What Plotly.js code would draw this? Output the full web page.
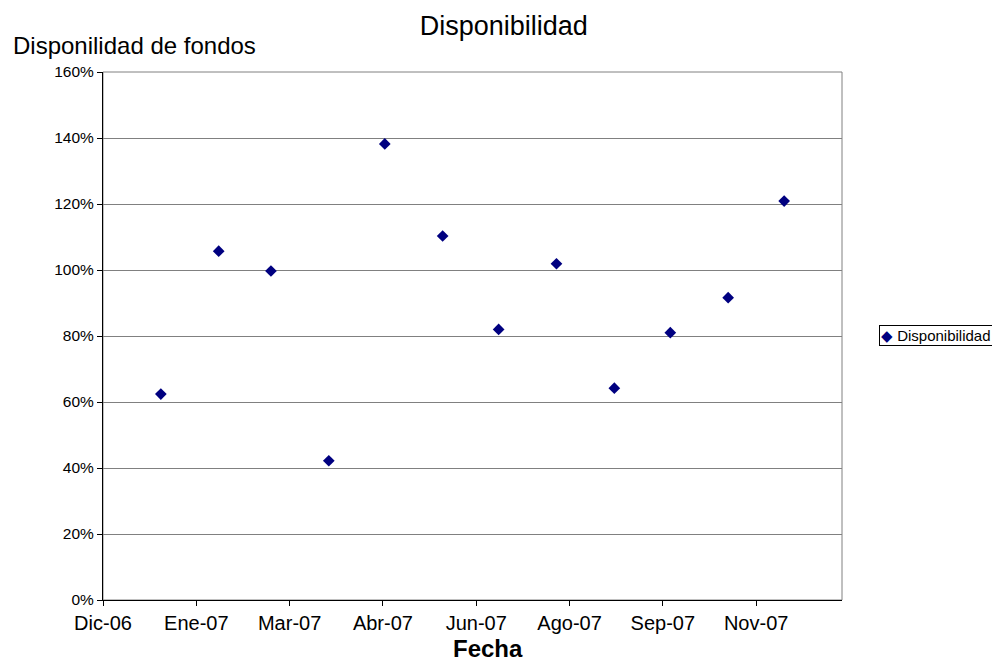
<!DOCTYPE html>
<html>
<head>
<meta charset="utf-8">
<script src="https://cdn.plot.ly/plotly-3.0.1.min.js"></script>
<style>html,body{margin:0;padding:0;background:#fff;}#chart{width:992px;height:662px;}</style>
</head>
<body>
<div id="chart"></div>
<script>
// Data (monthly availability)
const fechas = ['2007-01-01','2007-02-01','2007-03-01','2007-04-01','2007-05-01','2007-06-01',
                '2007-07-01','2007-08-01','2007-09-01','2007-10-01','2007-11-01','2007-12-01'];
const disponibilidad = [0.624, 1.057, 0.997, 0.422, 1.382, 1.103, 0.820, 1.019, 0.642, 0.810, 0.916, 1.209];
const tickFechas = ['2006-12-01','2007-01-20','2007-03-11','2007-04-30','2007-06-19','2007-08-08','2007-09-27','2007-11-16'];
const tickTextos = ['Dic-06','Ene-07','Mar-07','Abr-07','Jun-07','Ago-07','Sep-07','Nov-07'];
const serieNombre = 'Disponibilidad';

const trace = {
  x: fechas, y: disponibilidad, type: 'scatter', mode: 'markers', name: serieNombre,
  marker: {symbol: 'diamond', size: 9, color: '#000080'}
};

const W = 992, H = 662, L = 103, R = 842, T = 72, B = 600;
const pw = R - L, ph = B - T;

const layout = {
  width: W, height: H,
  margin: {l: L, r: W - R, t: T, b: H - B, autoexpand: false},
  paper_bgcolor: '#fff', plot_bgcolor: '#fff',
  font: {family: 'Arial, "Liberation Sans", sans-serif', color: '#000'},
  title: {text: 'Disponibilidad', font: {size: 27, color: '#000'},
          x: 538 / W, xanchor: 'center', xref: 'paper', y: 1 - 26 / H, yanchor: 'middle', yref: 'container'},
  xaxis: {
    type: 'date', range: ['2006-12-01', '2008-01-01'],
    tickmode: 'array', tickvals: tickFechas, ticktext: tickTextos,
    ticks: 'outside', ticklen: 5, tickcolor: '#000', tickwidth: 1,
    showline: true, linecolor: '#000', linewidth: 1,
    showgrid: false, zeroline: false,
    tickfont: {size: 20, color: '#000'}
  },
  yaxis: {
    range: [0, 1.6], dtick: 0.2, tick0: 0, tickformat: '.0%',
    ticks: 'outside', ticklen: 5, tickcolor: '#000', tickwidth: 1,
    showline: true, linecolor: '#000', linewidth: 1,
    showgrid: true, gridcolor: '#808080', gridwidth: 1, zeroline: false,
    tickfont: {size: 15.5, color: '#000'}
  },
  showlegend: false,
  shapes: [
    {type: 'rect', xref: 'paper', yref: 'paper', x0: 0, x1: 1, y0: 0, y1: 1,
     line: {color: '#808080', width: 1}, layer: 'below'}
  ],
  annotations: [
    {text: 'Disponilidad de fondos', xref: 'paper', yref: 'paper', x: 0, y: 1,
     xshift: -(L - 11), yshift: 27, xanchor: 'left', yanchor: 'middle', showarrow: false,
     font: {size: 24, color: '#000'}},
    {text: '<b>Fecha</b>', xref: 'paper', yref: 'paper', x: (488 - L) / pw, y: 0,
     yshift: -48, xanchor: 'center', yanchor: 'middle', showarrow: false,
     font: {size: 24, color: '#000'}},
    // legend box (series name from data)
    {text: '<span style="color:#000080">◆</span> ' + serieNombre, xref: 'paper', yref: 'paper',
     x: (879 - L) / pw, y: (B - 335.5) / ph, xanchor: 'left', yanchor: 'middle', showarrow: false,
     align: 'left', bordercolor: '#000', borderwidth: 1, borderpad: 1, bgcolor: '#fff',
     font: {size: 15, color: '#000'}}
  ]
};

Plotly.newPlot('chart', [trace], layout, {staticPlot: true, displayModeBar: false});
</script>
</body>
</html>
